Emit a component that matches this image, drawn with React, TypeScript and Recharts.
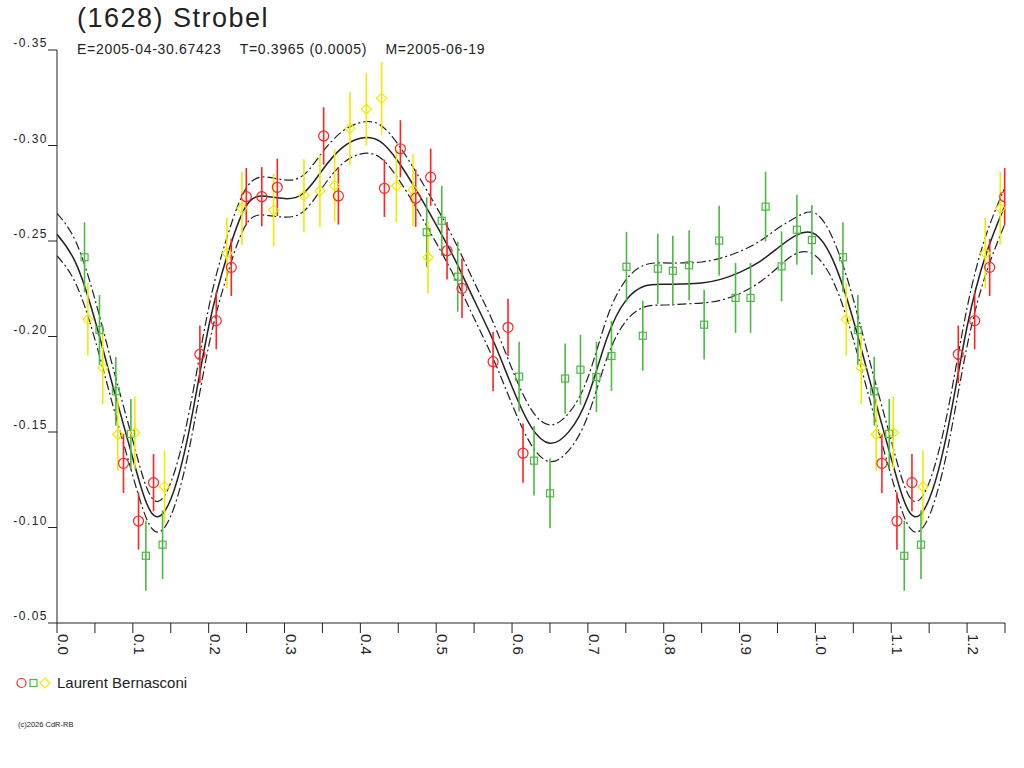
import { ComposedChart, Line, Scatter, XAxis, YAxis, ErrorBar } from "recharts";

type Obs = { phase: number; mag: number; err: number };

const RED = "#ff2424";
const GREEN = "#4cb944";
const YELLOW = "#f2ea00";
const INK = "#222222";
const FONT = "'Liberation Sans', Arial, sans-serif";

const redObs: Obs[] = [
  { phase: 0.0877, mag: -0.1336, err: 0.0155 },
  { phase: 0.1075, mag: -0.1034, err: 0.015 },
  { phase: 0.1273, mag: -0.1235, err: 0.015 },
  { phase: 0.1884, mag: -0.1907, err: 0.015 },
  { phase: 0.21, mag: -0.2083, err: 0.015 },
  { phase: 0.2298, mag: -0.2362, err: 0.015 },
  { phase: 0.2496, mag: -0.2732, err: 0.015 },
  { phase: 0.27, mag: -0.2732, err: 0.0155 },
  { phase: 0.2905, mag: -0.2781, err: 0.015 },
  { phase: 0.3516, mag: -0.305, err: 0.015 },
  { phase: 0.371, mag: -0.2736, err: 0.015 },
  { phase: 0.4317, mag: -0.2776, err: 0.015 },
  { phase: 0.4528, mag: -0.2983, err: 0.015 },
  { phase: 0.473, mag: -0.2724, err: 0.015 },
  { phase: 0.4927, mag: -0.2834, err: 0.015 },
  { phase: 0.5143, mag: -0.2449, err: 0.015 },
  { phase: 0.534, mag: -0.2252, err: 0.0155 },
  { phase: 0.575, mag: -0.1868, err: 0.0155 },
  { phase: 0.5947, mag: -0.2048, err: 0.015 },
  { phase: 0.6145, mag: -0.1389, err: 0.0155 },
];

const greenObs: Obs[] = [
  { phase: 0.0363, mag: -0.2415, err: 0.0183 },
  { phase: 0.056, mag: -0.2034, err: 0.0183 },
  { phase: 0.0776, mag: -0.1713, err: 0.018 },
  { phase: 0.0974, mag: -0.149, err: 0.0183 },
  { phase: 0.1172, mag: -0.0852, err: 0.0183 },
  { phase: 0.1392, mag: -0.091, err: 0.018 },
  { phase: 0.4875, mag: -0.2546, err: 0.0183 },
  { phase: 0.5073, mag: -0.2606, err: 0.0183 },
  { phase: 0.5284, mag: -0.2313, err: 0.0183 },
  { phase: 0.6093, mag: -0.179, err: 0.0183 },
  { phase: 0.629, mag: -0.135, err: 0.0183 },
  { phase: 0.6501, mag: -0.1179, err: 0.0183 },
  { phase: 0.67, mag: -0.178, err: 0.0183 },
  { phase: 0.6902, mag: -0.1826, err: 0.0183 },
  { phase: 0.7113, mag: -0.1788, err: 0.0183 },
  { phase: 0.7311, mag: -0.1898, err: 0.0183 },
  { phase: 0.7509, mag: -0.2365, err: 0.0183 },
  { phase: 0.7724, mag: -0.2004, err: 0.0183 },
  { phase: 0.7922, mag: -0.2355, err: 0.0183 },
  { phase: 0.812, mag: -0.2344, err: 0.0183 },
  { phase: 0.8335, mag: -0.2373, err: 0.0183 },
  { phase: 0.8533, mag: -0.2062, err: 0.0183 },
  { phase: 0.8731, mag: -0.2502, err: 0.0183 },
  { phase: 0.8947, mag: -0.2202, err: 0.0183 },
  { phase: 0.9145, mag: -0.2202, err: 0.0183 },
  { phase: 0.9343, mag: -0.268, err: 0.0183 },
  { phase: 0.9554, mag: -0.2367, err: 0.0183 },
  { phase: 0.9756, mag: -0.2559, err: 0.0183 },
  { phase: 0.9954, mag: -0.2505, err: 0.0183 },
];

const yellowObs: Obs[] = [
  { phase: 0.0407, mag: -0.209, err: 0.019 },
  { phase: 0.0604, mag: -0.1837, err: 0.019 },
  { phase: 0.0802, mag: -0.1488, err: 0.019 },
  { phase: 0.1027, mag: -0.1496, err: 0.019 },
  { phase: 0.1418, mag: -0.1214, err: 0.019 },
  { phase: 0.224, mag: -0.2436, err: 0.0185 },
  { phase: 0.2438, mag: -0.2671, err: 0.019 },
  { phase: 0.2856, mag: -0.2662, err: 0.019 },
  { phase: 0.3256, mag: -0.2739, err: 0.019 },
  { phase: 0.3467, mag: -0.2762, err: 0.019 },
  { phase: 0.3661, mag: -0.279, err: 0.019 },
  { phase: 0.3863, mag: -0.309, err: 0.019 },
  { phase: 0.4079, mag: -0.319, err: 0.019 },
  { phase: 0.4281, mag: -0.3247, err: 0.019 },
  { phase: 0.4475, mag: -0.2788, err: 0.019 },
  { phase: 0.4694, mag: -0.2767, err: 0.019 },
  { phase: 0.4892, mag: -0.2415, err: 0.019 },
];

// fitted curve and its envelope, read at 0.025 phase steps
const curvePhase = [
  0, 0.025, 0.05, 0.075, 0.1, 0.125, 0.15, 0.175, 0.2, 0.225, 0.25, 0.275, 0.3,
  0.325, 0.35, 0.375, 0.4, 0.425, 0.45, 0.475, 0.5, 0.525, 0.55, 0.575, 0.6,
  0.625, 0.65, 0.675, 0.7, 0.725, 0.75, 0.775, 0.8, 0.825, 0.85, 0.875, 0.9,
  0.925, 0.95, 0.975, 1.0,
];
const curveMid = [
  -0.2535, -0.2383, -0.2086, -0.172, -0.1362, -0.1075, -0.1148, -0.1523,
  -0.2051, -0.2431, -0.2687, -0.2734, -0.2722, -0.275, -0.2872, -0.2985,
  -0.3038, -0.3024, -0.2915, -0.2758, -0.2584, -0.24, -0.2191, -0.198,
  -0.1737, -0.1528, -0.1441, -0.1502, -0.1685, -0.199, -0.2188, -0.2264,
  -0.2273, -0.2275, -0.228, -0.2299, -0.2336, -0.2388, -0.2462, -0.2531,
  -0.2535,
];
const curveUpper = [
  -0.2645, -0.2495, -0.2195, -0.182, -0.1455, -0.1155, -0.1235, -0.162,
  -0.215, -0.253, -0.278, -0.2835, -0.282, -0.2845, -0.2965, -0.307, -0.312,
  -0.311, -0.3005, -0.285, -0.268, -0.2495, -0.2285, -0.2075, -0.183, -0.162,
  -0.1537, -0.16, -0.1785, -0.2095, -0.2295, -0.2375, -0.2385, -0.2385,
  -0.239, -0.241, -0.2445, -0.2495, -0.2565, -0.2625, -0.2645,
];
const curveLower = [
  -0.2423, -0.2275, -0.1985, -0.162, -0.127, -0.0995, -0.106, -0.1425, -0.195,
  -0.233, -0.259, -0.2635, -0.2625, -0.2655, -0.278, -0.29, -0.2955, -0.294,
  -0.2825, -0.2665, -0.249, -0.2305, -0.2095, -0.1885, -0.1645, -0.1435,
  -0.1345, -0.1405, -0.1585, -0.1885, -0.208, -0.2155, -0.2165, -0.217,
  -0.2175, -0.219, -0.2225, -0.228, -0.236, -0.2435, -0.2423,
];

const yTicks = [-0.35, -0.3, -0.25, -0.2, -0.15, -0.1, -0.05];
const xTicks = [
  0, 0.05, 0.1, 0.15, 0.2, 0.25, 0.3, 0.35, 0.4, 0.45, 0.5, 0.55, 0.6, 0.65,
  0.7, 0.75, 0.8, 0.85, 0.9, 0.95, 1.0, 1.05, 1.1, 1.15, 1.2, 1.25,
];

// the plot shows phase 0..1.25, so the first quarter is drawn again after 1.0
const wrap = (obs: Obs[]) =>
  obs.concat(
    obs.filter((o) => o.phase <= 0.25).map((o) => ({ ...o, phase: o.phase + 1 }))
  );

const curveRows = curvePhase.map((p, i) => ({
  phase: p,
  mid: curveMid[i],
  upper: curveUpper[i],
  lower: curveLower[i],
}));
const curveData = curveRows.concat(
  curveRows
    .filter((r) => r.phase > 0 && r.phase <= 0.25)
    .map((r) => ({ ...r, phase: r.phase + 1 }))
);

const RedCircle = (p: any) => (
  <circle cx={p.cx} cy={p.cy} r={5} fill="none" stroke={RED} strokeWidth={1.2} />
);
const GreenSquare = (p: any) => (
  <rect
    x={p.cx - 3.5}
    y={p.cy - 3.5}
    width={7}
    height={7}
    fill="none"
    stroke={GREEN}
    strokeWidth={1.2}
  />
);
const YellowDiamond = (p: any) => (
  <path
    d={`M${p.cx},${p.cy - 5}L${p.cx + 5},${p.cy}L${p.cx},${p.cy + 5}L${p.cx - 5},${p.cy}Z`}
    fill="none"
    stroke={YELLOW}
    strokeWidth={1.2}
  />
);

const YTick = (props: any) => (
  <text
    x={props.x}
    y={props.y - 3}
    textAnchor="end"
    fontSize={12}
    letterSpacing={1.5}
    fontFamily={FONT}
    fill={INK}
  >
    {props.payload.value.toFixed(2)}
  </text>
);

const XTick = (props: any) => {
  const v = props.payload.value;
  if (Math.round(v * 100) % 10 !== 0) return <g />;
  return (
    <text
      x={props.x + 1}
      y={props.y + 1}
      transform={`rotate(90 ${props.x + 1} ${props.y + 1})`}
      textAnchor="start"
      fontSize={15}
      fontFamily={FONT}
      fill={INK}
    >
      {v.toFixed(1)}
    </text>
  );
};

export default function App() {
  return (
    <div
      style={{
        position: "absolute",
        left: 0,
        top: 0,
        width: 1024,
        height: 768,
        background: "#fff",
        fontFamily: FONT,
        color: INK,
      }}
    >
      <div style={{ position: "absolute", left: 77, top: 5, fontSize: 27, lineHeight: 1, letterSpacing: 1.5 }}>
        (1628) Strobel
      </div>
      <div
        style={{
          position: "absolute",
          left: 77,
          top: 42,
          fontSize: 14,
          lineHeight: 1,
          letterSpacing: 0.7,
          whiteSpace: "pre",
        }}
      >
        {"E=2005-04-30.67423    T=0.3965 (0.0005)    M=2005-06-19"}
      </div>

      <ComposedChart
        width={1024}
        height={768}
        margin={{ top: 50, right: 19, left: 0, bottom: 85 }}
      >
        <XAxis
          type="number"
          dataKey="phase"
          domain={[0, 1.25]}
          ticks={xTicks}
          interval={0}
          allowDataOverflow
          height={60}
          tickSize={10}
          tickMargin={0}
          axisLine={{ stroke: INK }}
          tickLine={{ stroke: INK }}
          tick={<XTick />}
        />
        <YAxis
          type="number"
          domain={[-0.35, -0.05]}
          reversed
          ticks={yTicks}
          interval={0}
          allowDataOverflow
          width={57}
          tickSize={9}
          tickMargin={0}
          axisLine={{ stroke: INK }}
          tickLine={{ stroke: INK }}
          tick={<YTick />}
        />
        <Line
          data={curveData}
          dataKey="upper"
          type="natural"
          stroke={INK}
          strokeWidth={1.2}
          strokeDasharray="9 3 2 3"
          dot={false}
          activeDot={false}
          isAnimationActive={false}
        />
        <Line
          data={curveData}
          dataKey="lower"
          type="natural"
          stroke={INK}
          strokeWidth={1.2}
          strokeDasharray="9 3 2 3"
          dot={false}
          activeDot={false}
          isAnimationActive={false}
        />
        <Line
          data={curveData}
          dataKey="mid"
          type="natural"
          stroke={INK}
          strokeWidth={1.5}
          dot={false}
          activeDot={false}
          isAnimationActive={false}
        />
        <Scatter data={wrap(greenObs)} dataKey="mag" shape={<GreenSquare />} isAnimationActive={false}>
          <ErrorBar dataKey="err" direction="y" width={0} stroke={GREEN} strokeWidth={1.6} isAnimationActive={false} />
        </Scatter>
        <Scatter data={wrap(yellowObs)} dataKey="mag" shape={<YellowDiamond />} isAnimationActive={false}>
          <ErrorBar dataKey="err" direction="y" width={0} stroke={YELLOW} strokeWidth={1.6} isAnimationActive={false} />
        </Scatter>
        <Scatter data={wrap(redObs)} dataKey="mag" shape={<RedCircle />} isAnimationActive={false}>
          <ErrorBar dataKey="err" direction="y" width={0} stroke={RED} strokeWidth={1.6} isAnimationActive={false} />
        </Scatter>
      </ComposedChart>

      <div style={{ position: "absolute", left: 16, top: 675, display: "flex", alignItems: "center" }}>
        <svg width={38} height={14}>
          <circle cx={5.5} cy={7} r={4.5} fill="none" stroke={RED} strokeWidth={1.2} />
          <rect x={14} y={3.5} width={7} height={7} fill="none" stroke={GREEN} strokeWidth={1.2} />
          <path d="M29,2L34,7L29,12L24,7Z" fill="none" stroke={YELLOW} strokeWidth={1.2} />
        </svg>
        <span style={{ fontSize: 15, marginLeft: 3, lineHeight: 1 }}>Laurent Bernasconi</span>
      </div>
      <div style={{ position: "absolute", left: 18, top: 721, fontSize: 7.5, lineHeight: 1 }}>
        (c)2026 CdR-RB
      </div>
    </div>
  );
}
